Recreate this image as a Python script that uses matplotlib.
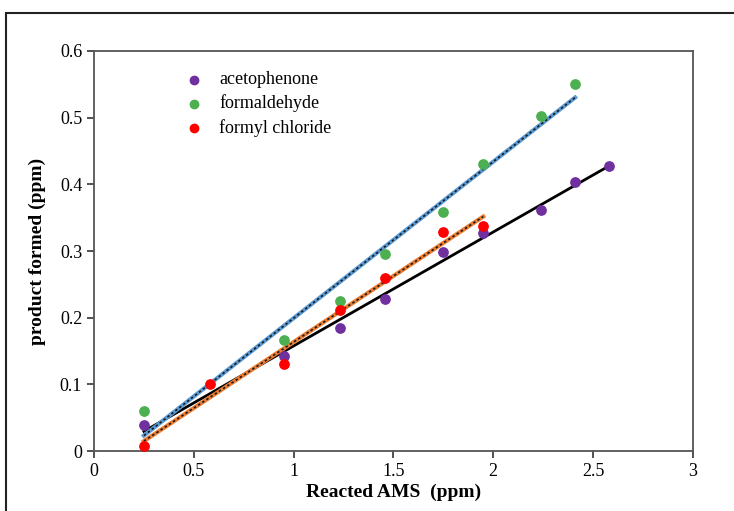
import matplotlib.pyplot as plt
import numpy as np
from matplotlib.patches import Rectangle

# data
aceto_x = [0.25, 0.95, 1.23, 1.46, 1.75, 1.95, 2.24, 2.41, 2.58]
aceto_y = [0.039, 0.143, 0.185, 0.228, 0.298, 0.327, 0.362, 0.403, 0.428]
formal_x = [0.25, 0.95, 1.23, 1.46, 1.75, 1.95, 2.24, 2.41]
formal_y = [0.060, 0.167, 0.225, 0.296, 0.358, 0.430, 0.502, 0.551]
formyl_x = [0.25, 0.58, 0.95, 1.23, 1.46, 1.75, 1.95]
formyl_y = [0.008, 0.100, 0.130, 0.212, 0.260, 0.329, 0.337]

plt.rcParams['font.family'] = ['Liberation Serif', 'DejaVu Serif']

fig = plt.figure(figsize=(7.34, 5.11), dpi=100)
ax = fig.add_axes([0.128, 0.1174, 0.816, 0.7828])

# outer chart border (cut off at right and bottom)
fig.patches.append(Rectangle((6 / 734, -0.2), 1.2, 0.2 + 1 - 13 / 511,
                             transform=fig.transFigure, fill=False,
                             edgecolor='#222222', linewidth=1.5))


def trend(xs, ys):
    k, b = np.polyfit(xs, ys, 1)
    xx = np.array([min(xs), max(xs)])
    return xx, k * xx + b


# trend lines
xx, yy = trend(aceto_x, aceto_y)
ax.plot(xx, yy, color='black', lw=2, zorder=2)
xx, yy = trend(formal_x, formal_y)
ax.plot(xx, yy, color='#5b9bd5', lw=3, zorder=2)
ax.plot(xx, yy, color='#1a1a1a', lw=1.2, ls=(0, (1.5, 1.5)), zorder=2)
xx, yy = trend(formyl_x, formyl_y)
ax.plot(xx, yy, color='#ed7d31', lw=3, zorder=2)
ax.plot(xx, yy, color='#1a1a1a', lw=1.2, ls=(0, (1.5, 1.5)), zorder=2)

# points
ax.scatter(aceto_x, aceto_y, s=45, color='#7030a0', label='acetophenone', zorder=3)
ax.scatter(formal_x, formal_y, s=45, color='#4caf50', label='formaldehyde', zorder=3)
ax.scatter(formyl_x, formyl_y, s=45, color='#ff0000', label='formyl chloride', zorder=3)

ax.set_xlim(0, 3)
ax.set_ylim(0, 0.6)
ax.set_xticks([0, 0.5, 1, 1.5, 2, 2.5, 3])
ax.set_xticklabels(['0', '0.5', '1', '1.5', '2', '2.5', '3'])
ax.set_yticks([0, 0.1, 0.2, 0.3, 0.4, 0.5, 0.6])
ax.set_yticklabels(['0', '0.1', '0.2', '0.3', '0.4', '0.5', '0.6'])
ax.tick_params(direction='out', length=5, width=1.2, labelsize=13, colors='#333333',
               labelcolor='black')
for s in ax.spines.values():
    s.set_color('#555555')
    s.set_linewidth(1.3)

ax.set_xlabel('Reacted AMS  (ppm)', fontsize=14, fontweight='bold', labelpad=3)
ax.set_ylabel('product formed (ppm)', fontsize=14, fontweight='bold', labelpad=10)

ax.legend(loc='upper left', bbox_to_anchor=(0.11, 0.99), frameon=False,
          fontsize=13, handletextpad=0.4, labelspacing=0.35, markerscale=0.9)

fig.savefig('out.png', dpi=100)
